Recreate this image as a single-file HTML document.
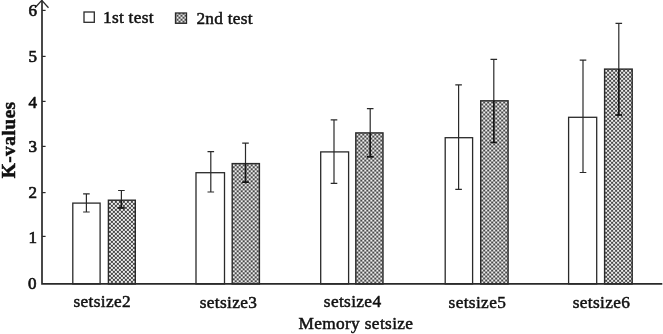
<!DOCTYPE html>
<html><head><meta charset="utf-8"><title>K-values by memory setsize</title>
<style>
html,body{margin:0;padding:0;background:#fff;}
body{width:663px;height:334px;overflow:hidden;font-family:"Liberation Serif","DejaVu Serif",serif;}
svg{display:block;position:absolute;left:0;top:0;}
text{font-family:"Liberation Serif","DejaVu Serif",serif;fill:#111;stroke:#111;stroke-width:0.5px;}
text.tk{stroke-width:0.65px;}
</style></head><body>
<svg width="663" height="334" viewBox="0 0 663 334">
<defs>
<pattern id="chk" width="4" height="4" patternUnits="userSpaceOnUse" patternTransform="translate(0.5 0.7)">
<rect width="4" height="4" fill="#484848"/>
<rect x="0.05" y="0.05" width="1.9" height="1.9" fill="#fff"/>
<rect x="2.05" y="2.05" width="1.9" height="1.9" fill="#fff"/>
</pattern>
<filter id="soft" x="-5%" y="-5%" width="110%" height="110%"><feGaussianBlur stdDeviation="0.55"/></filter>
</defs>
<rect width="663" height="334" fill="#fff"/>

<rect x="72.8" y="203.1" width="27.3" height="80.8" fill="#fff" stroke="#2a2a2a" stroke-width="1.3"/>
<path d="M86.4 193.9V212.0M83.1 193.9H89.7M83.1 212.0H89.7" stroke="#2a2a2a" stroke-width="1.2" fill="none"/>
<g transform="translate(108.4 200.2)"><rect x="0" y="0" width="26.9" height="83.7" fill="url(#chk)" filter="url(#soft)"/></g>
<rect x="108.4" y="200.2" width="26.9" height="83.7" fill="none" stroke="#2a2a2a" stroke-width="1.4"/>
<path d="M121.4 190.5V207.9M118.1 190.5H124.7M118.1 207.9H124.7" stroke="#2a2a2a" stroke-width="1.2" fill="none"/>
<path d="M121.4 200.2V207.9M118.1 207.9H124.7" stroke="#141414" stroke-width="1.5" fill="none"/>
<rect x="196.0" y="172.7" width="28.5" height="111.2" fill="#fff" stroke="#2a2a2a" stroke-width="1.3"/>
<path d="M210.8 151.7V192.0M207.5 151.7H214.1M207.5 192.0H214.1" stroke="#2a2a2a" stroke-width="1.2" fill="none"/>
<g transform="translate(232.2 163.6)"><rect x="0" y="0" width="27.2" height="120.3" fill="url(#chk)" filter="url(#soft)"/></g>
<rect x="232.2" y="163.6" width="27.2" height="120.3" fill="none" stroke="#2a2a2a" stroke-width="1.4"/>
<path d="M245.5 143.2V182.2M242.2 143.2H248.8M242.2 182.2H248.8" stroke="#2a2a2a" stroke-width="1.2" fill="none"/>
<path d="M245.5 163.6V182.2M242.2 182.2H248.8" stroke="#141414" stroke-width="1.5" fill="none"/>
<rect x="320.7" y="151.9" width="27.9" height="132.0" fill="#fff" stroke="#2a2a2a" stroke-width="1.3"/>
<path d="M334.0 119.9V183.4M330.7 119.9H337.3M330.7 183.4H337.3" stroke="#2a2a2a" stroke-width="1.2" fill="none"/>
<g transform="translate(355.8 132.9)"><rect x="0" y="0" width="27.2" height="151.0" fill="url(#chk)" filter="url(#soft)"/></g>
<rect x="355.8" y="132.9" width="27.2" height="151.0" fill="none" stroke="#2a2a2a" stroke-width="1.4"/>
<path d="M370.2 108.6V156.8M366.9 108.6H373.5M366.9 156.8H373.5" stroke="#2a2a2a" stroke-width="1.2" fill="none"/>
<path d="M370.2 132.9V156.8M366.9 156.8H373.5" stroke="#141414" stroke-width="1.5" fill="none"/>
<rect x="445.2" y="137.7" width="27.4" height="146.2" fill="#fff" stroke="#2a2a2a" stroke-width="1.3"/>
<path d="M458.6 84.9V189.3M455.3 84.9H461.9M455.3 189.3H461.9" stroke="#2a2a2a" stroke-width="1.2" fill="none"/>
<g transform="translate(480.7 100.8)"><rect x="0" y="0" width="27.4" height="183.1" fill="url(#chk)" filter="url(#soft)"/></g>
<rect x="480.7" y="100.8" width="27.4" height="183.1" fill="none" stroke="#2a2a2a" stroke-width="1.4"/>
<path d="M493.8 59.4V142.5M490.5 59.4H497.1M490.5 142.5H497.1" stroke="#2a2a2a" stroke-width="1.2" fill="none"/>
<path d="M493.8 100.8V142.5M490.5 142.5H497.1" stroke="#141414" stroke-width="1.5" fill="none"/>
<rect x="568.6" y="117.3" width="28.1" height="166.6" fill="#fff" stroke="#2a2a2a" stroke-width="1.3"/>
<path d="M583.0 60.1V172.5M579.7 60.1H586.3M579.7 172.5H586.3" stroke="#2a2a2a" stroke-width="1.2" fill="none"/>
<g transform="translate(604.6 69.1)"><rect x="0" y="0" width="27.6" height="214.8" fill="url(#chk)" filter="url(#soft)"/></g>
<rect x="604.6" y="69.1" width="27.6" height="214.8" fill="none" stroke="#2a2a2a" stroke-width="1.4"/>
<path d="M618.8 23.4V115.1M615.5 23.4H622.1M615.5 115.1H622.1" stroke="#2a2a2a" stroke-width="1.2" fill="none"/>
<path d="M618.8 69.1V115.1M615.5 115.1H622.1" stroke="#141414" stroke-width="1.5" fill="none"/>
<path d="M42 0.5V283.85H662.3" stroke="#2a2a2a" stroke-width="1.7" fill="none"/>
<path d="M35 7.8L41.8 0.4L48.5 7.8" stroke="#2a2a2a" stroke-width="1.3" fill="none"/>
<path d="M42 10.4H45.6" stroke="#2a2a2a" stroke-width="1.2"/>
<path d="M42 56.4H45.6" stroke="#2a2a2a" stroke-width="1.2"/>
<path d="M42 101.4H45.6" stroke="#2a2a2a" stroke-width="1.2"/>
<path d="M42 146.4H45.6" stroke="#2a2a2a" stroke-width="1.2"/>
<path d="M42 192.6H45.6" stroke="#2a2a2a" stroke-width="1.2"/>
<path d="M42 236.4H45.6" stroke="#2a2a2a" stroke-width="1.2"/>
<text x="37" y="16.2" class="tk" font-size="17" text-anchor="end">6</text>
<text x="37" y="61.5" class="tk" font-size="17" text-anchor="end">5</text>
<text x="37" y="108.2" class="tk" font-size="17" text-anchor="end">4</text>
<text x="37" y="152.4" class="tk" font-size="17" text-anchor="end">3</text>
<text x="37" y="198.4" class="tk" font-size="17" text-anchor="end">2</text>
<text x="37" y="242.7" class="tk" font-size="17" text-anchor="end">1</text>
<text x="36.5" y="288.9" class="tk" font-size="17" text-anchor="end">0</text>
<text transform="translate(15 139.9) rotate(-90)" font-size="19.5" font-weight="bold" text-anchor="middle" letter-spacing="0.4" stroke-width="0.1">K-values</text>
<text x="102.3" y="307.0" font-size="17.3" letter-spacing="0.36" text-anchor="middle">setsize2</text>
<text x="228.5" y="307.5" font-size="17.3" letter-spacing="0.36" text-anchor="middle">setsize3</text>
<text x="352.6" y="307.2" font-size="17.3" letter-spacing="0.36" text-anchor="middle">setsize4</text>
<text x="477.4" y="307.8" font-size="17.3" letter-spacing="0.36" text-anchor="middle">setsize5</text>
<text x="601.5" y="307.7" font-size="17.3" letter-spacing="0.36" text-anchor="middle">setsize6</text>
<text x="355.9" y="329.3" font-size="17.3" letter-spacing="0.36" text-anchor="middle">Memory setsize</text>
<rect x="84" y="12" width="10.3" height="10.3" fill="#fff" stroke="#2a2a2a" stroke-width="1.3"/>
<text x="103" y="22.9" font-size="17.3" letter-spacing="0.28">1st test</text>
<rect x="175.5" y="13" width="11" height="10.3" fill="url(#chk)" filter="url(#soft)"/>
<rect x="175.5" y="13" width="11" height="10.3" fill="none" stroke="#2a2a2a" stroke-width="1.3"/>
<text x="196.4" y="24" font-size="17.3" letter-spacing="0.28">2nd test</text>
</svg></body></html>
